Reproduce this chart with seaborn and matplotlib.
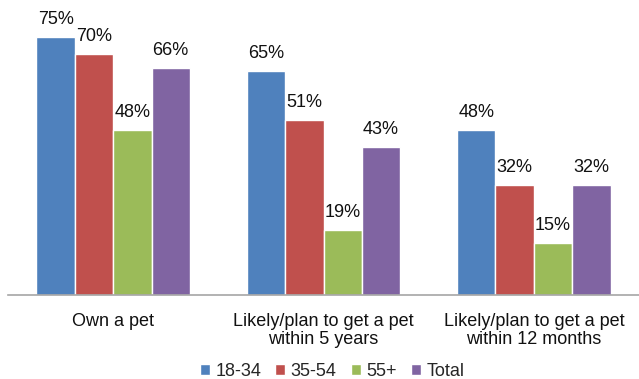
import matplotlib
matplotlib.use("Agg")
import matplotlib.pyplot as plt
import seaborn as sns
import pandas as pd

categories = ["Own a pet", "Likely/plan to get a pet\nwithin 5 years", "Likely/plan to get a pet\nwithin 12 months"]
series = ["18-34", "35-54", "55+", "Total"]
v_18_34 = [75, 65, 48]
v_35_54 = [70, 51, 32]
v_55 = [48, 19, 15]
v_total = [66, 43, 32]
colors = ["#4F81BD", "#C0504D", "#9BBB59", "#8064A2"]

rows = []
for s, vals in zip(series, [v_18_34, v_35_54, v_55, v_total]):
    for c, v in zip(categories, vals):
        rows.append({"category": c, "series": s, "value": v})
df = pd.DataFrame(rows)

sns.set_style("white")
plt.rcParams["font.family"] = ["Liberation Sans", "DejaVu Sans"]

FS = 13
fig = plt.figure(figsize=(6.39, 3.79), dpi=100)
ax = fig.add_axes([8/639, 1 - 295/379, 1 - 8/639, 295/379])
sns.barplot(data=df, x="category", y="value", hue="series", palette=colors,
            order=categories, hue_order=series, width=0.73, ax=ax,
            saturation=1, errorbar=None, legend=True)
ax.set_ylim(0, 295/3.44)
ax.set_xlim(-0.5, 2.5)
for cont in ax.containers:
    ax.bar_label(cont, labels=[f"{int(round(b.get_height()))}%" for b in cont],
                 padding=6.5, fontsize=FS, color="#111111")
for s in ["top", "right", "left"]:
    ax.spines[s].set_visible(False)
ax.spines["bottom"].set_color("#A6A6A6")
ax.spines["bottom"].set_linewidth(1.2)
ax.set_yticks([])
ax.set_xlabel("")
ax.set_ylabel("")
ax.tick_params(axis="x", length=0, pad=13, labelsize=FS, colors="#111111")
for t in ax.get_xticklabels():
    t.set_linespacing(1.1)
handles, labels = ax.get_legend_handles_labels()
ax.get_legend().remove()
fig.legend(handles, labels, loc="lower center", bbox_to_anchor=(0.52, -0.027), ncol=4,
           frameon=False, fontsize=FS, handlelength=0.55, handleheight=0.55,
           handletextpad=0.3, columnspacing=0.8, borderpad=0)
fig.savefig("out.png", dpi=100)
